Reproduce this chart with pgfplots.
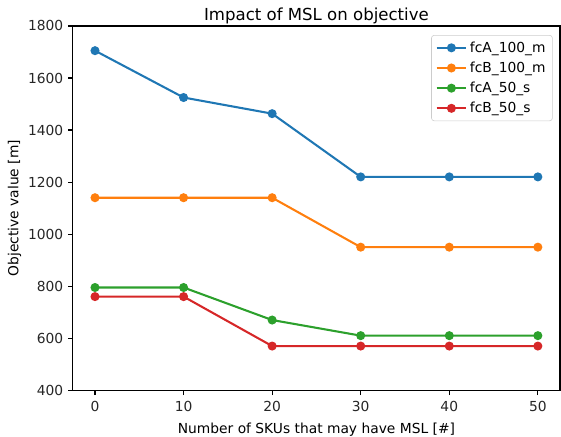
\documentclass[border=0pt]{standalone}
\usepackage{fontspec}
\setmainfont{DejaVu Sans}
\usepackage{pgfplots}
\pgfplotsset{compat=1.18}
\definecolor{c1}{HTML}{1F77B4}
\definecolor{c2}{HTML}{FF7F0E}
\definecolor{c3}{HTML}{2CA02C}
\definecolor{c4}{HTML}{D62728}
\begin{document}
\begin{tikzpicture}
\useasboundingbox (-0.73in,-0.46in) rectangle (4.89in,3.91in);
\begin{axis}[
  scale only axis,
  width=4.88in, height=3.65in,
  at={(0,0)}, anchor=south west,
  xmin=-2.5, xmax=52.5, ymin=400, ymax=1800,
  xtick={0,10,20,30,40,50},
  ytick={400,600,800,1000,1200,1400,1600,1800},
  tick pos=left, tick align=outside,
  major tick length=3.5pt,
  every tick/.style={black, line width=0.8pt},
  axis line style={line width=0.8pt},
  /pgf/number format/assume math mode=true,
  /pgf/number format/1000 sep={},
  tick label style={font=\fontsize{10}{12}\selectfont, text=black!85},
  xticklabel style={yshift=-1pt},
  title={Impact of MSL on objective},
  title style={font=\fontsize{12}{14}\selectfont, yshift=-8pt},
  xlabel={Number of SKUs that may have MSL [\#]},
  ylabel={Objective value [m]},
  label style={font=\fontsize{10}{12}\selectfont},
  xlabel style={yshift=-1pt},
  ylabel style={yshift=-2pt},
  legend style={at={(0.985,0.975)}, anchor=north east, draw=black!20, rounded corners=2pt,
    font=\fontsize{10}{12}\selectfont, row sep=1.5pt, inner xsep=3pt, inner ysep=2.5pt},
  legend cell align=left,
  legend image code/.code={
    \draw[#1, mark=none] (0cm,0cm) -- (0.75cm,0cm);
    \draw[#1, only marks] plot coordinates {(0.375cm,0cm)};
  },
  every axis plot/.append style={line width=1.5pt, mark=*, mark size=2.75pt},
]
\addplot[c1, mark options={fill=c1, draw=c1, line width=1pt}] coordinates {(0,1705) (10,1525) (20,1463) (30,1220) (40,1220) (50,1220)};
\addlegendentry{fcA\_100\_m}
\addplot[c2, mark options={fill=c2, draw=c2, line width=1pt}] coordinates {(0,1140) (10,1140) (20,1140) (30,950) (40,950) (50,950)};
\addlegendentry{fcB\_100\_m}
\addplot[c3, mark options={fill=c3, draw=c3, line width=1pt}] coordinates {(0,795) (10,795) (20,670) (30,610) (40,610) (50,610)};
\addlegendentry{fcA\_50\_s}
\addplot[c4, mark options={fill=c4, draw=c4, line width=1pt}] coordinates {(0,760) (10,760) (20,570) (30,570) (40,570) (50,570)};
\addlegendentry{fcB\_50\_s}
\end{axis}
\end{tikzpicture}
\end{document}
